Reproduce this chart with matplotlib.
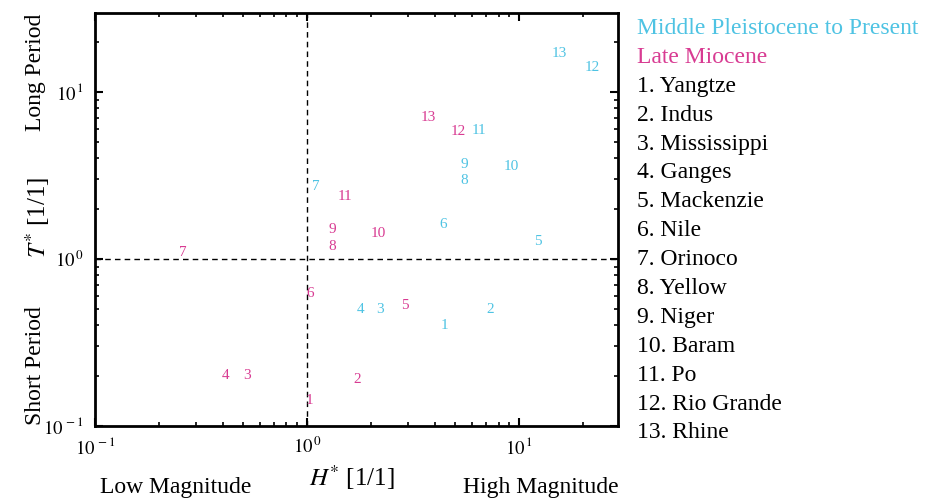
import matplotlib.pyplot as plt

plt.rcParams['font.family'] = ['Liberation Serif', 'DejaVu Serif']
plt.rcParams['mathtext.fontset'] = 'stix'

# river numbers and their (H*, T*) positions
ids = [1, 2, 3, 4, 5, 6, 7, 8, 9, 10, 11, 12, 13]
h_modern = [4.43, 7.3, 2.21, 1.78, 12.3, 4.38, 1.10, 5.5, 5.5, 9.2, 6.5, 22.1, 15.4]
t_modern = [0.40, 0.50, 0.50, 0.50, 1.28, 1.60, 2.70, 2.95, 3.70, 3.6, 5.9, 14.1, 17.1]
h_miocene = [1.03, 1.72, 0.52, 0.415, 2.9, 1.03, 0.26, 1.31, 1.31, 2.16, 1.51, 5.15, 3.72]
t_miocene = [0.143, 0.19, 0.20, 0.20, 0.53, 0.62, 1.10, 1.18, 1.50, 1.43, 2.38, 5.76, 7.0]
rivers = ['Yangtze', 'Indus', 'Mississippi', 'Ganges', 'Mackenzie', 'Nile', 'Orinoco',
          'Yellow', 'Niger', 'Baram', 'Po', 'Rio Grande', 'Rhine']

cyan = '#4ec3e3'
magenta = '#d83b92'

fig = plt.figure(figsize=(9.27, 4.99), dpi=100)
ax = fig.add_axes([0.1025, 0.1463, 0.5642, 0.8277])
ax.set_xscale('log')
ax.set_yscale('log')
ax.set_xlim(0.1, 29.3)
ax.set_ylim(0.1, 29.7)

for i, x, y in zip(ids, h_modern, t_modern):
    ax.text(x, y, str(i), color=cyan, fontsize=11, ha='center', va='center')
for i, x, y in zip(ids, h_miocene, t_miocene):
    ax.text(x, y, str(i), color=magenta, fontsize=11, ha='center', va='center')

ax.axvline(1, color='k', ls=(0, (4, 3)), lw=1)
ax.axhline(1, color='k', ls=(0, (4, 3)), lw=1)

for s in ax.spines.values():
    s.set_linewidth(2)
ax.tick_params(which='both', direction='in', top=True, right=True, labelsize=13.5, pad=8)
ax.tick_params(which='major', length=6, width=1.5)
ax.tick_params(which='minor', length=3, width=1.2)
ax.set_xticks([0.1, 1, 10])
ax.set_xticklabels([r'$10^{\,-1}$', r'$10^{\,0}$', r'$10^{\,1}$'])
ax.set_yticks([0.1, 1, 10])
ax.set_yticklabels([r'$10^{\,-1}$', r'$10^{\,0}$', r'$10^{\,1}$'])

# axis titles and quadrant names
fig.text(0.38, 0.042, r'$H^{*}$ [1/1]', fontsize=18, ha='center', va='center')
fig.text(0.04, 0.565, r'$T^{*}$ [1/1]', fontsize=18, rotation=90, ha='center', va='center')
fig.text(0.189, 0.024, 'Low Magnitude', fontsize=17, ha='center', va='center')
fig.text(0.583, 0.024, 'High Magnitude', fontsize=17, ha='center', va='center')
fig.text(0.038, 0.856, 'Long Period', fontsize=17, rotation=90, ha='center', va='center')
fig.text(0.038, 0.267, 'Short Period', fontsize=17, rotation=90, ha='center', va='center')

# key on the right
y0 = 0.943
dy = 0.0579
fig.text(0.687, y0, 'Middle Pleistocene to Present', color=cyan, fontsize=17, va='center')
fig.text(0.687, y0 - dy, 'Late Miocene', color=magenta, fontsize=17, va='center')
for k, name in enumerate(rivers):
    fig.text(0.687, y0 - dy * (k + 2), f'{k + 1}. {name}', color='k', fontsize=17, va='center')

fig.savefig('out.png', dpi=100)
